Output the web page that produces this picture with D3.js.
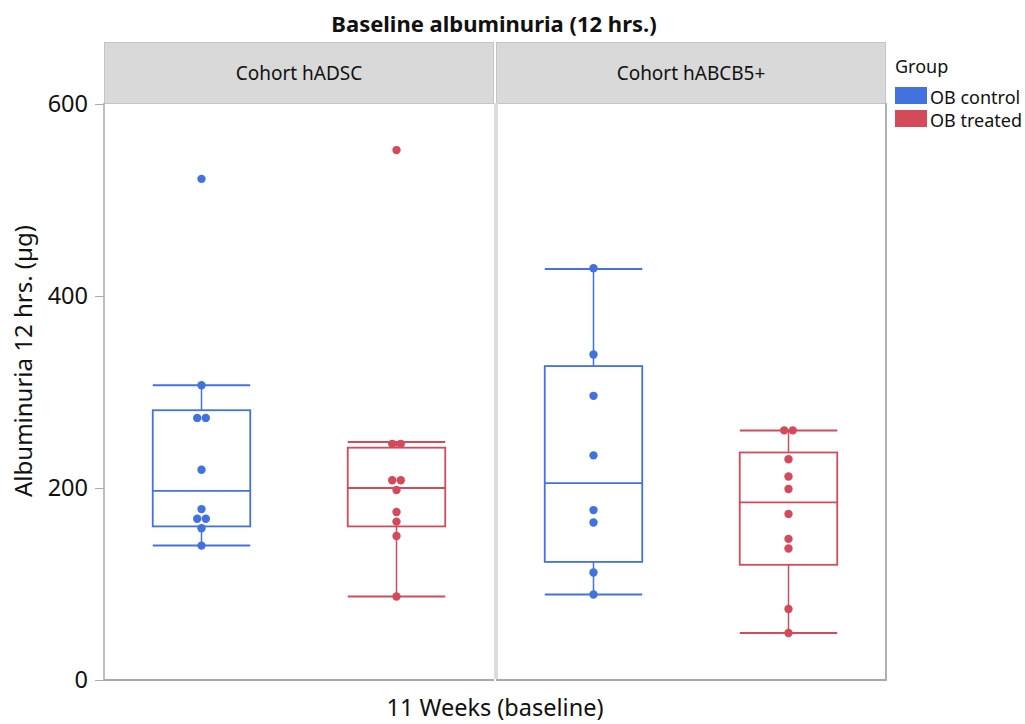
<!DOCTYPE html>
<html>
<head>
<meta charset="utf-8">
<script src="https://cdn.jsdelivr.net/npm/d3@7"></script>
<style>
  body { margin: 0; background: #fff; }
  text { font-family: "Noto Sans", "Open Sans", sans-serif; fill: #111; }
</style>
</head>
<body>
<div id="chart"></div>
<script>
var cohorts = ["Cohort hADSC", "Cohort hABCB5+"];
var groups = ["OB control", "OB treated"];
var groupColors = ["#4272e0", "#d44a5b"];
var yTicks = [0, 200, 400, 600];

// points, in order adsc control, adsc treated, abcb control, abcb treated
var adscControl = [522, 307, 273, 273, 219, 178, 168, 168, 158, 140];
var adscTreated = [552, 246, 246, 208, 208, 198, 175, 165, 150, 87];
var abcbControl = [429, 339, 296, 234, 177, 164, 112, 89];
var abcbTreated = [260, 260, 230, 212, 199, 173, 147, 137, 74, 49];

// box stats, same order
var boxQ1 = [160, 160, 123, 120];
var boxMedian = [197, 200, 205, 185];
var boxQ3 = [281, 242, 327, 237];
var whiskerLow = [140, 87, 89, 49];
var whiskerHigh = [307, 248, 428, 260];

var allPoints = [adscControl, adscTreated, abcbControl, abcbTreated];

var width = 1025, height = 724;
var svg = d3.select("#chart").append("svg").attr("width", width).attr("height", height);

var plotTop = 103, plotBottom = 680;
var y = d3.scaleLinear().domain([0, 600]).range([plotBottom, 104]);
var xCohort = d3.scaleBand().domain(cohorts).range([104, 886]).paddingInner(4 / 786);
var xGroup = d3.scalePoint().domain(groups).range([0, xCohort.bandwidth()]).padding(0.5);
var boxW = xGroup.step() / 2;

// title
svg.append("text").attr("x", 494).attr("y", 32).attr("text-anchor", "middle")
  .style("font-weight", "bold").style("font-size", "22px")
  .text("Baseline albuminuria (12 hrs.)");

// panels
cohorts.forEach(function(c, ci){
  var x0 = xCohort(c), bw = xCohort.bandwidth();
  svg.append("rect").attr("x", x0 + 0.5).attr("y", 42.5).attr("width", bw - 1).attr("height", 61)
    .attr("fill", "#d9d9d9").attr("stroke", "#c4c4c4");
  svg.append("text").attr("x", x0 + bw / 2).attr("y", 80).attr("text-anchor", "middle")
    .style("font-size", "19px").text(c);
  svg.append("line").attr("x1", x0).attr("x2", x0 + bw).attr("y1", plotBottom).attr("y2", plotBottom)
    .attr("stroke", "#a9a9a9").attr("stroke-width", 2);
});
// divider between panels
svg.append("rect").attr("x", xCohort(cohorts[0]) + xCohort.bandwidth()).attr("y", plotTop)
  .attr("width", 4).attr("height", plotBottom - plotTop - 1).attr("fill", "#dcdcdc");
// right border
svg.append("line").attr("x1", 886).attr("x2", 886).attr("y1", plotTop).attr("y2", plotBottom + 1)
  .attr("stroke", "#b0b0b0").attr("stroke-width", 2);

// y axis
var yAxis = svg.append("g").attr("transform", "translate(104,0)")
  .call(d3.axisLeft(y).tickValues(yTicks).tickSize(9).tickPadding(7));
yAxis.select(".domain").attr("d", "M0," + plotTop + "V" + plotBottom).attr("stroke", "#aaaaaa").attr("stroke-width", 1.5);
yAxis.selectAll(".tick line").attr("stroke", "#aaaaaa");
yAxis.selectAll(".tick text").style("font-size", "23.5px").style("font-family", "'Noto Sans', sans-serif").attr("fill", "#111");

svg.append("text").attr("transform", "translate(32,361) rotate(-90)").attr("text-anchor", "middle")
  .style("font-size", "24px").text("Albuminuria 12 hrs. (µg)");
svg.append("text").attr("x", 495).attr("y", 716).attr("text-anchor", "middle")
  .style("font-size", "23.5px").text("11 Weeks (baseline)");

// boxes
var k = 0;
cohorts.forEach(function(c){
  groups.forEach(function(g, gi){
    var cx = xCohort(c) + xGroup(g);
    var col = groupColors[gi];
    var gEl = svg.append("g");
    gEl.append("line").attr("x1", cx).attr("x2", cx).attr("y1", y(whiskerHigh[k])).attr("y2", y(boxQ3[k]))
      .attr("stroke", col).attr("stroke-width", 1.5);
    gEl.append("line").attr("x1", cx).attr("x2", cx).attr("y1", y(boxQ1[k])).attr("y2", y(whiskerLow[k]))
      .attr("stroke", col).attr("stroke-width", 1.5);
    [whiskerHigh[k], whiskerLow[k]].forEach(function(v){
      gEl.append("line").attr("x1", cx - boxW / 2).attr("x2", cx + boxW / 2).attr("y1", y(v)).attr("y2", y(v))
        .attr("stroke", col).attr("stroke-width", 2);
    });
    gEl.append("rect").attr("x", cx - boxW / 2).attr("y", y(boxQ3[k])).attr("width", boxW)
      .attr("height", y(boxQ1[k]) - y(boxQ3[k])).attr("fill", "none").attr("stroke", col).attr("stroke-width", 1.8);
    gEl.append("line").attr("x1", cx - boxW / 2).attr("x2", cx + boxW / 2).attr("y1", y(boxMedian[k])).attr("y2", y(boxMedian[k]))
      .attr("stroke", col).attr("stroke-width", 1.8);

    // points, equal values spread side by side
    var counts = {};
    allPoints[k].forEach(function(v){ counts[v] = (counts[v] || 0) + 1; });
    var seen = {};
    allPoints[k].forEach(function(v){
      var n = counts[v], i = seen[v] || 0; seen[v] = i + 1;
      gEl.append("circle").attr("cx", cx + (i - (n - 1) / 2) * 8.6).attr("cy", y(v)).attr("r", 4.2)
        .attr("fill", col);
    });
    k++;
  });
});

// legend
var leg = svg.append("g").attr("transform", "translate(895,0)");
leg.append("text").attr("x", 0).attr("y", 73).style("font-size", "18px").text("Group");
groups.forEach(function(g, i){
  leg.append("rect").attr("x", 0).attr("y", 87 + i * 23).attr("width", 32).attr("height", 17).attr("fill", groupColors[i]);
  leg.append("text").attr("x", 35).attr("y", 104 + i * 23).style("font-size", "18px").text(g);
});
</script>
</body>
</html>
